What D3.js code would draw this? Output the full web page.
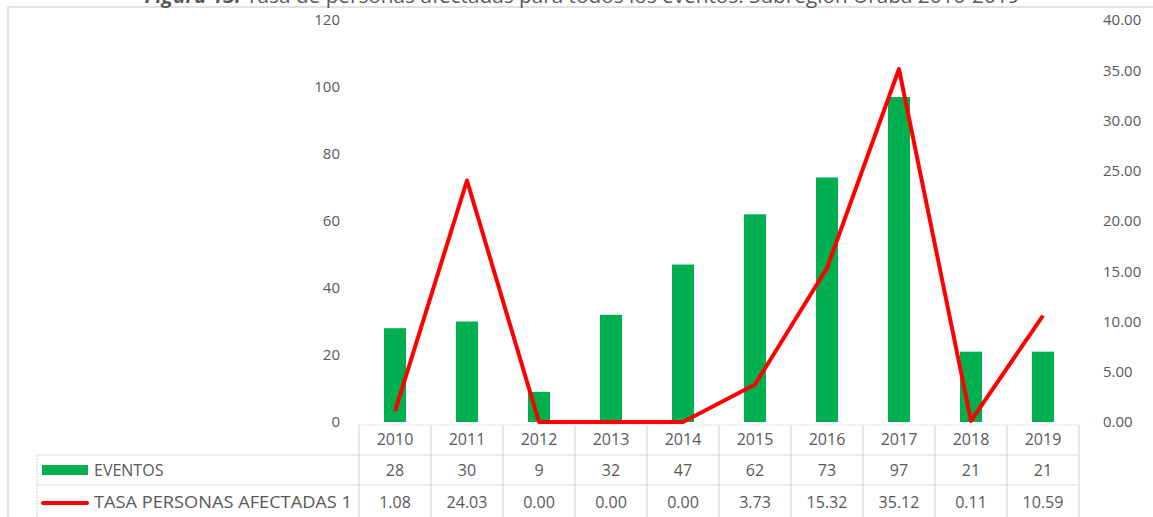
<!DOCTYPE html>
<html>
<head>
<meta charset="utf-8">
<script src="https://cdn.jsdelivr.net/npm/d3@7"></script>
<style>
  body { margin: 0; background: #fff; }
  svg text { font-family: "Open Sans", "Noto Sans", sans-serif; fill: #595959; }
</style>
</head>
<body>
<div id="chart"></div>
<script>
const years = ["2010","2011","2012","2013","2014","2015","2016","2017","2018","2019"];
const eventos = [28, 30, 9, 32, 47, 62, 73, 97, 21, 21];
const tasa = [1.08, 24.03, 0.00, 0.00, 0.00, 3.73, 15.32, 35.12, 0.11, 10.59];
const leftTicks = [0, 20, 40, 60, 80, 100, 120];
const rightTicks = [0, 5, 10, 15, 20, 25, 30, 35, 40];
const seriesNames = ["EVENTOS", "TASA PERSONAS AFECTADAS 1"];
const title = "Tasa de personas afectadas para todos los eventos. Subregión Urabá 2010-2019";

const width = 1153, height = 517;
const svg = d3.select("#chart").append("svg").attr("width", width).attr("height", height);

// frame
svg.append("path").attr("d", "M8,517 V7 H1153").attr("fill", "none").attr("stroke", "#d9d9d9").attr("stroke-width", 1.5);

// title, cut off at the top like in the original
const t = svg.append("text").attr("x", 582).attr("y", 3).attr("text-anchor", "middle").attr("font-size", 20)
  .attr("textLength", 875).attr("lengthAdjust", "spacingAndGlyphs");
t.append("tspan").attr("font-weight", "bold").attr("font-style", "italic").text("Figura 13. ");
t.append("tspan").text(title);

const x = d3.scaleBand().domain(years).range([359, 1079]);
const yL = d3.scaleLinear().domain([0, 120]).range([422, 20]);
const yR = d3.scaleLinear().domain([0, 40]).range([422, 20]);

// left axis
const axL = svg.append("g").attr("transform", "translate(340,0)")
  .call(d3.axisLeft(yL).tickValues(leftTicks).tickSize(0).tickPadding(0));
axL.select(".domain").remove();
axL.selectAll("text").attr("font-size", 15).attr("fill", "#595959").style("font-family", "Open Sans");

// right axis
const axR = svg.append("g").attr("transform", "translate(1103,0)")
  .call(d3.axisRight(yR).tickValues(rightTicks).tickSize(0).tickPadding(0).tickFormat(d => d.toFixed(2)));
axR.select(".domain").remove();
axR.selectAll("text").attr("font-size", 15).attr("fill", "#595959").style("font-family", "Open Sans");

// bars
const barW = 22;
svg.append("g").selectAll("rect").data(eventos).join("rect")
  .attr("x", (d, i) => x(years[i]) + x.bandwidth() / 2 - barW / 2)
  .attr("y", d => yL(d))
  .attr("width", barW)
  .attr("height", d => yL(0) - yL(d))
  .attr("fill", "#00b050");

// line
const line = d3.line().x((d, i) => x(years[i]) + x.bandwidth() / 2).y(d => yR(d));
svg.append("path").datum(tasa).attr("d", line)
  .attr("fill", "none").attr("stroke", "#ff0000").attr("stroke-width", 4).attr("stroke-linejoin", "round");

// data table
const rowTop = [425, 455, 485];
const grid = svg.append("g").attr("stroke", "#d9d9d9").attr("stroke-width", 1.2);
grid.append("line").attr("x1", 359).attr("x2", 1079).attr("y1", 425).attr("y2", 425).attr("stroke-dasharray", "2,1");
grid.append("line").attr("x1", 37).attr("x2", 1079).attr("y1", 455).attr("y2", 455);
grid.append("line").attr("x1", 37).attr("x2", 1079).attr("y1", 485).attr("y2", 485);
grid.append("line").attr("x1", 37).attr("x2", 37).attr("y1", 455).attr("y2", 517).attr("stroke-dasharray", "2,1");
x.domain().concat(["end"]).forEach((yr, i) => {
  const xx = 359 + i * x.step();
  grid.append("line").attr("x1", xx).attr("x2", xx).attr("y1", 425).attr("y2", 517);
});

const tbl = svg.append("g").attr("font-size", 16).attr("text-anchor", "middle");
tbl.selectAll(".yr").data(years).join("text").attr("class", "yr")
  .attr("x", d => x(d) + x.bandwidth() / 2).attr("y", rowTop[0] + 20).text(d => d);
tbl.selectAll(".ev").data(eventos).join("text").attr("class", "ev")
  .attr("x", (d, i) => x(years[i]) + x.bandwidth() / 2).attr("y", rowTop[1] + 21).text(d => d);
tbl.selectAll(".ts").data(tasa).join("text").attr("class", "ts")
  .attr("x", (d, i) => x(years[i]) + x.bandwidth() / 2).attr("y", rowTop[2] + 23).text(d => d.toFixed(2));

// legend keys in the table
svg.append("rect").attr("x", 42).attr("y", 465).attr("width", 46).attr("height", 10).attr("fill", "#00b050");
svg.append("line").attr("x1", 43).attr("x2", 87).attr("y1", 503).attr("y2", 503)
  .attr("stroke", "#ff0000").attr("stroke-width", 4).attr("stroke-linecap", "round");
svg.append("text").attr("x", 94).attr("y", rowTop[1] + 21).attr("font-size", 16).text(seriesNames[0]);
svg.append("text").attr("x", 94).attr("y", rowTop[2] + 23).attr("font-size", 16)
  .attr("textLength", 258).attr("lengthAdjust", "spacingAndGlyphs").text(seriesNames[1]);
</script>
</body>
</html>
